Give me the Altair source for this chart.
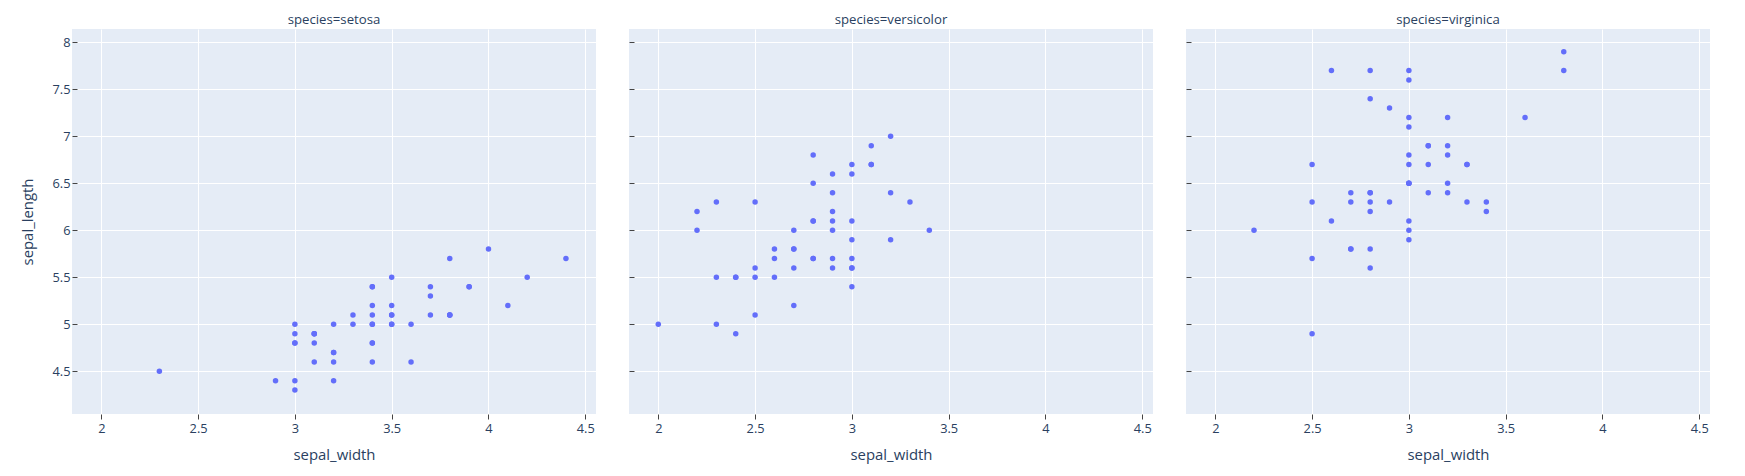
import altair as alt
import pandas as pd

species = ["setosa", "versicolor", "virginica"]

setosa_sepal_length = [5.1, 4.9, 4.7, 4.6, 5.0, 5.4, 4.6, 5.0, 4.4, 4.9,
                       5.4, 4.8, 4.8, 4.3, 5.8, 5.7, 5.4, 5.1, 5.7, 5.1,
                       5.4, 5.1, 4.6, 5.1, 4.8, 5.0, 5.0, 5.2, 5.2, 4.7,
                       4.8, 5.4, 5.2, 5.5, 4.9, 5.0, 5.5, 4.9, 4.4, 5.1,
                       5.0, 4.5, 4.4, 5.0, 5.1, 4.8, 5.1, 4.6, 5.3, 5.0]
setosa_sepal_width = [3.5, 3.0, 3.2, 3.1, 3.6, 3.9, 3.4, 3.4, 2.9, 3.1,
                      3.7, 3.4, 3.0, 3.0, 4.0, 4.4, 3.9, 3.5, 3.8, 3.8,
                      3.4, 3.7, 3.6, 3.3, 3.4, 3.0, 3.4, 3.5, 3.4, 3.2,
                      3.1, 3.4, 4.1, 4.2, 3.1, 3.2, 3.5, 3.1, 3.0, 3.4,
                      3.5, 2.3, 3.2, 3.5, 3.8, 3.0, 3.8, 3.2, 3.7, 3.3]

versicolor_sepal_length = [7.0, 6.4, 6.9, 5.5, 6.5, 5.7, 6.3, 4.9, 6.6, 5.2,
                           5.0, 5.9, 6.0, 6.1, 5.6, 6.7, 5.6, 5.8, 6.2, 5.6,
                           5.9, 6.1, 6.3, 6.1, 6.4, 6.6, 6.8, 6.7, 6.0, 5.7,
                           5.5, 5.5, 5.8, 6.0, 5.4, 6.0, 6.7, 6.3, 5.6, 5.5,
                           5.5, 6.1, 5.8, 5.0, 5.6, 5.7, 5.7, 6.2, 5.1, 5.7]
versicolor_sepal_width = [3.2, 3.2, 3.1, 2.3, 2.8, 2.8, 3.3, 2.4, 2.9, 2.7,
                          2.0, 3.0, 2.2, 2.9, 2.9, 3.1, 3.0, 2.7, 2.2, 2.5,
                          3.2, 2.8, 2.5, 2.8, 2.9, 3.0, 2.8, 3.0, 2.9, 2.6,
                          2.4, 2.4, 2.7, 2.7, 3.0, 3.4, 3.1, 2.3, 3.0, 2.5,
                          2.6, 3.0, 2.6, 2.3, 2.7, 3.0, 2.9, 2.9, 2.5, 2.8]

virginica_sepal_length = [6.3, 5.8, 7.1, 6.3, 6.5, 7.6, 4.9, 7.3, 6.7, 7.2,
                          6.5, 6.4, 6.8, 5.7, 5.8, 6.4, 6.5, 7.7, 7.7, 6.0,
                          6.9, 5.6, 7.7, 6.3, 6.7, 7.2, 6.2, 6.1, 6.4, 7.2,
                          7.4, 7.9, 6.4, 6.3, 6.1, 7.7, 6.3, 6.4, 6.0, 6.9,
                          6.7, 6.9, 5.8, 6.8, 6.7, 6.7, 6.3, 6.5, 6.2, 5.9]
virginica_sepal_width = [3.3, 2.7, 3.0, 2.9, 3.0, 3.0, 2.5, 2.9, 2.5, 3.6,
                         3.2, 2.7, 3.0, 2.5, 2.8, 3.2, 3.0, 3.8, 2.6, 2.2,
                         3.2, 2.8, 2.8, 2.7, 3.3, 3.2, 2.8, 3.0, 2.8, 3.0,
                         2.8, 3.8, 2.8, 2.8, 2.6, 3.0, 3.4, 3.1, 3.0, 3.1,
                         3.1, 3.1, 2.7, 3.2, 3.3, 3.0, 2.5, 3.0, 3.4, 3.0]

x_ticks = [2, 2.5, 3, 3.5, 4, 4.5]
y_ticks = [4.5, 5, 5.5, 6, 6.5, 7, 7.5, 8]
x_domain = [1.8487, 4.5553]
y_domain = [4.0458, 8.1415]

FONT = "Open Sans"
TEXT = "#2a3f5f"
BG = "#E5ECF6"
POINT = "#636efa"
SMALL = 12.8
BIG = 14.9
HEAD = 13.2

series = {
    "setosa": (setosa_sepal_length, setosa_sepal_width),
    "versicolor": (versicolor_sepal_length, versicolor_sepal_width),
    "virginica": (virginica_sepal_length, virginica_sepal_width),
}


def panel(name, first):
    sl, sw = series[name]
    df = pd.DataFrame({"sepal_width": sw, "sepal_length": sl})
    y_kwargs = dict(
        values=y_ticks, format="~g", offset=-5, tickSize=5, tickColor="#444",
        domain=False, grid=True, gridColor="white", gridWidth=1,
        labels=first, labelFont=FONT, labelFontSize=SMALL, labelColor=TEXT,
        labelPadding=2,
    )
    if first:
        y_kwargs.update(title="sepal_length", titleFont=FONT, titleFontSize=BIG,
                        titleFontWeight="normal", titleColor=TEXT,
                        titlePadding=17)
    else:
        y_kwargs.update(title="")
    x_axis = alt.Axis(
        values=x_ticks, format="~g", tickSize=5, tickColor="#444",
        domain=False, grid=True, gridColor="white", gridWidth=1,
        labelFont=FONT, labelFontSize=SMALL, labelColor=TEXT, labelPadding=3,
        title="sepal_width", titleFont=FONT, titleFontSize=BIG,
        titleFontWeight="normal", titleColor=TEXT, titlePadding=13,
    )
    return alt.Chart(df).mark_circle(size=30, color=POINT, opacity=1).encode(
        x=alt.X("sepal_width:Q", scale=alt.Scale(domain=x_domain, nice=False, zero=False), axis=x_axis),
        y=alt.Y("sepal_length:Q", scale=alt.Scale(domain=y_domain, nice=False, zero=False), axis=alt.Axis(**y_kwargs)),
    ).properties(
        width=524, height=385,
        title=alt.TitleParams(f"species={name}", font=FONT, fontSize=HEAD,
                              fontWeight="normal", color=TEXT, offset=2,
                              anchor="middle"),
    )


chart = alt.hconcat(
    panel("setosa", True), panel("versicolor", False), panel("virginica", False),
    spacing=32,
).properties(
    padding={"left": 12, "top": 4, "right": 5, "bottom": 5},
    background="white",
).configure_view(fill=BG, stroke=None)

chart.save("out.html", embed_options={"renderer": "svg", "actions": False})
